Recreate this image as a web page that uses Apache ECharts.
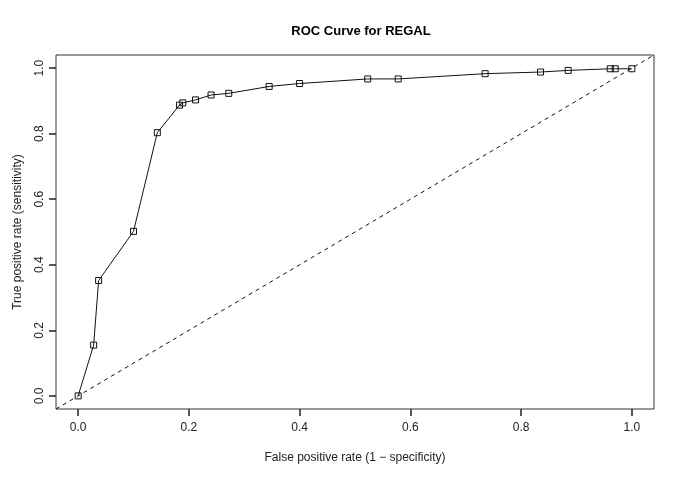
<!DOCTYPE html>
<html>
<head>
<meta charset="utf-8">
<script src="https://cdn.jsdelivr.net/npm/echarts@6/dist/echarts.min.js"></script>
<style>html,body{margin:0;padding:0;background:#fff;}#c{width:685px;height:479px;}</style>
</head>
<body>
<div id="c"></div>
<script>
var fpr = [0, 0.028, 0.037, 0.1, 0.143, 0.183, 0.189, 0.212, 0.24, 0.272, 0.345, 0.4, 0.523, 0.578, 0.735, 0.835, 0.885, 0.961, 0.97, 1.0];
var tpr = [0, 0.155, 0.352, 0.502, 0.803, 0.887, 0.894, 0.903, 0.918, 0.923, 0.944, 0.953, 0.967, 0.967, 0.983, 0.988, 0.993, 0.998, 0.998, 0.998];
var diagX = [-0.04, 1.04];
var diagY = [-0.04, 1.04];
var axisMin = 0, axisMax = 1, axisStep = 0.2;
var pad = 0.04;

var rocData = fpr.map(function (x, i) { return [x, tpr[i]]; });
var diagData = diagX.map(function (x, i) { return [x, diagY[i]]; });
var font = 'Liberation Sans, Arial, Helvetica, sans-serif';

var W = 685, H = 479;
var L = 56, R = 31, T = 55, B = 70;
var pw = W - L - R, ph = H - T - B;
var span = (axisMax - axisMin) + 2 * pad;
var ox = pw * pad / span, oy = ph * pad / span;

var fmt = function (v) { return v.toFixed(1); };
var hiddenAxis = function (g) { return { gridIndex: g, type: 'value', min: 0, max: 1, show: false }; };

var chart = echarts.init(document.getElementById('c'));
chart.setOption({
  animation: false,
  title: {
    text: 'ROC Curve for REGAL',
    left: 356, top: 20, textAlign: 'center',
    textStyle: { fontFamily: font, fontSize: 13, fontWeight: 'bold', color: '#000' }
  },
  grid: [
    { left: L, right: R, top: T, bottom: B, show: true, borderColor: '#333', borderWidth: 1 },
    { left: L + ox, right: R + ox, top: T, bottom: B, show: false },
    { left: L, right: R, top: T + oy, bottom: B + oy, show: false }
  ],
  xAxis: [
    { gridIndex: 0, type: 'value', min: axisMin - pad, max: axisMax + pad, show: false },
    {
      gridIndex: 1, type: 'value', min: axisMin, max: axisMax, interval: axisStep,
      name: 'False positive rate (1 \u2212 specificity)',
      nameLocation: 'middle', nameGap: 43,
      nameTextStyle: { fontFamily: font, fontSize: 12, color: '#222' },
      axisLine: { show: false, onZero: false },
      axisTick: { show: true, inside: false, length: 7, lineStyle: { color: '#222', width: 1.5 } },
      axisLabel: { margin: 13, fontFamily: font, fontSize: 12, color: '#222', formatter: fmt },
      splitLine: { show: true, lineStyle: { color: 'rgba(0,0,0,0)' } }
    },
    hiddenAxis(2)
  ],
  yAxis: [
    { gridIndex: 0, type: 'value', min: axisMin - pad, max: axisMax + pad, show: false },
    hiddenAxis(1),
    {
      gridIndex: 2, type: 'value', min: axisMin, max: axisMax, interval: axisStep,
      name: 'True positive rate (sensitivity)',
      nameLocation: 'middle', nameGap: 32,
      nameTextStyle: { fontFamily: font, fontSize: 12, color: '#222' },
      axisLine: { show: false, onZero: false },
      axisTick: { show: true, inside: false, length: 7, lineStyle: { color: '#222', width: 1.5 } },
      axisLabel: { rotate: 90, margin: 10, fontFamily: font, fontSize: 12, color: '#222', formatter: fmt },
      splitLine: { show: true, lineStyle: { color: 'rgba(0,0,0,0)' } }
    }
  ],
  series: [
    {
      type: 'line', xAxisIndex: 0, yAxisIndex: 0, data: diagData, symbol: 'none', silent: true,
      lineStyle: { color: '#111', width: 1, type: [4, 4] }
    },
    {
      type: 'line', xAxisIndex: 0, yAxisIndex: 0, data: rocData, symbol: 'rect', symbolSize: 6,
      itemStyle: { color: 'transparent', borderColor: '#111', borderWidth: 1 },
      lineStyle: { color: '#111', width: 1 }
    }
  ]
});
</script>
</body>
</html>
